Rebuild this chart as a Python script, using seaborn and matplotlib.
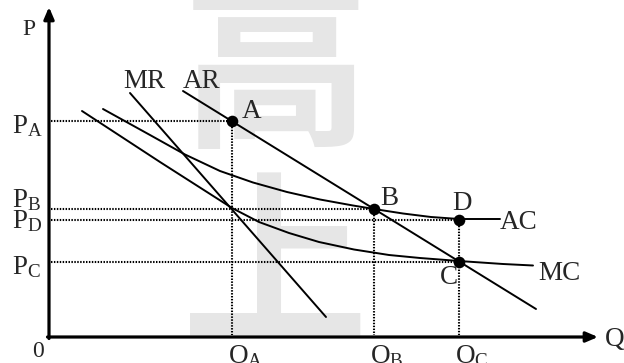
import numpy as np
import pandas as pd
import matplotlib
matplotlib.use("Agg")
import matplotlib.pyplot as plt
import seaborn as sns

# ---- data (diagram units: origin at the axes corner) ----
ar_q = [134, 487]
ar_p = [246, 28]
mr_q = [81, 277]
mr_p = [244, 20]
mc_q = [33, 111, 183, 210, 240, 270, 305, 340, 371, 410, 454, 484]
mc_p = [226, 175, 129, 115, 104, 95, 87.5, 82, 79, 76, 73, 71.5]
ac_q = [54, 101, 136, 171, 204, 238, 271, 304, 325, 354, 382, 410, 451]
ac_p = [228, 202, 182.5, 166, 154.5, 145, 137.5, 131.5, 128, 123.5, 120, 118, 118]
point_names = ["A", "B", "D", "C"]
point_q = [183, 325, 410, 410]
point_p = [216, 128, 117.5, 75]
price_labels = ["P_A", "P_B", "P_D", "P_C"]
qty_labels = ["O_A", "O_B", "O_C"]

sns.set_style("white")
plt.rcParams["font.family"] = ["Liberation Serif", "DejaVu Serif"]
plt.rcParams["mathtext.fontset"] = "custom"
plt.rcParams["mathtext.rm"] = "Liberation Serif"
plt.rcParams["mathtext.it"] = "Liberation Serif"

fig = plt.figure(figsize=(6.24, 3.63), dpi=100)
ax = fig.add_axes([0, 0, 1, 1])
ax.set_xlim(-49, 575)
ax.set_ylim(-26, 337)
ax.axis("off")

# watermark
wm = dict(fontsize=134, color="#e6e6e6", ha="center", va="center", zorder=0,
          family=["Noto Sans CJK SC", "DejaVu Sans"], fontweight="bold")
ax.text(227, 259, "高", **wm)
ax.text(226, 63, "上", **wm)

lw = 1.4
curves = pd.DataFrame({
    "q": ar_q + mr_q + mc_q + ac_q,
    "p": ar_p + mr_p + mc_p + ac_p,
    "curve": ["AR"] * len(ar_q) + ["MR"] * len(mr_q) + ["MC"] * len(mc_q) + ["AC"] * len(ac_q),
})
sns.lineplot(data=curves, x="q", y="p", hue="curve", units="curve", estimator=None,
             sort=False, palette={"AR": "black", "MR": "black", "MC": "black", "AC": "black"},
             linewidth=lw, legend=False, ax=ax, zorder=3)

# dotted guides
dot = dict(color="black", lw=1.5, ls=(0, (0.7, 0.7)), zorder=2)
for q, p in zip(point_q, point_p):
    ax.plot([2, q], [p, p], **dot)
for q, p in zip(point_q[:3], point_p[:3]):
    ax.plot([q, q], [p, 2], **dot)

pts = pd.DataFrame({"q": point_q, "p": point_p})
sns.scatterplot(data=pts, x="q", y="p", color="black", s=70, edgecolor="black",
                linewidth=0, ax=ax, zorder=5)

# axes with arrows
ax.annotate("", xy=(0, 330), xytext=(0, -1.5),
            arrowprops=dict(arrowstyle="-|>,head_length=0.7,head_width=0.3",
                            color="black", lw=2.3, shrinkA=0, shrinkB=0))
ax.annotate("", xy=(549, 0), xytext=(-1.5, 0),
            arrowprops=dict(arrowstyle="-|>,head_length=0.7,head_width=0.3",
                            color="black", lw=2.3, shrinkA=0, shrinkB=0))

fs = 19.5
def lab(x, y, s, size=fs):
    ax.text(x, y, s, fontsize=size, ha="left", va="baseline", zorder=6)

lab(-27, 302, "P", 17)
lab(556, -9, "Q")
lab(-17, -20, "0", 17)
lab(74, 249, "MR")
lab(134, 249, "AR")
lab(193, 219, "A")
lab(331, 132, "B")
lab(403, 127, "D")
lab(391, 53, "C")
lab(451, 108, "AC")
lab(489, 57, "MC")

price_y = [204, 130, 108.5, 62.5]
for s, y in zip(price_labels, price_y):
    base, sub = s.split("_")
    lab(-37, y, r"$\mathrm{" + base + "_{" + sub + "}}$")
for s, q in zip(qty_labels, point_q[:3]):
    base, sub = s.split("_")
    lab(q - 4, -26, r"$\mathrm{" + base + "_{" + sub + "}}$")

fig.savefig("out.png", dpi=100)
